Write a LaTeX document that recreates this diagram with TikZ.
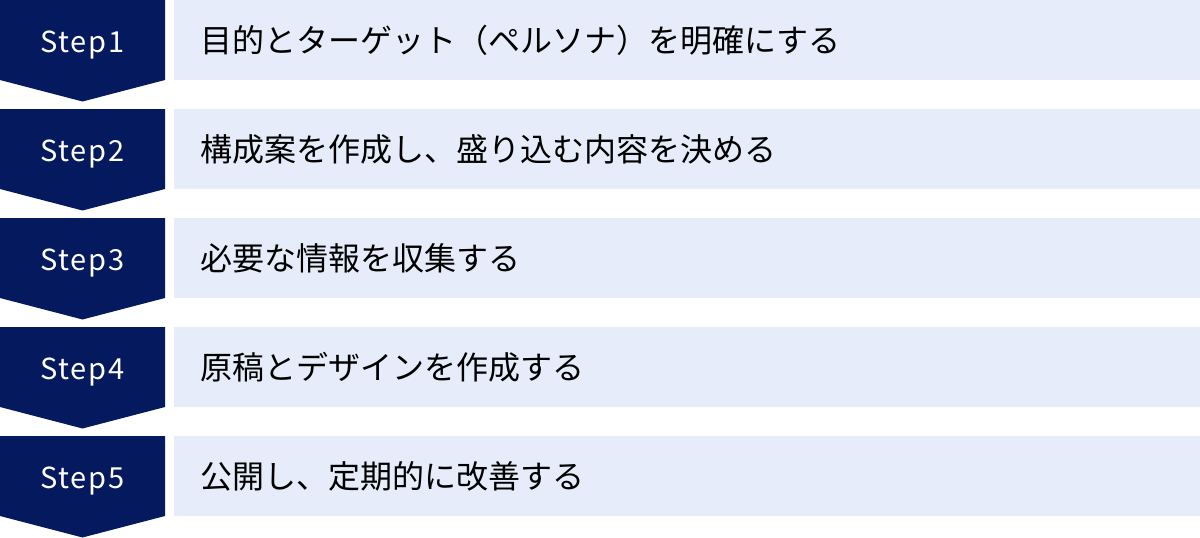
\documentclass[tikz,border=0pt]{standalone}
\usepackage{fontspec}
\newfontfamily\jpfont{Noto Sans CJK JP}
\newfontfamily\stepfont[LetterSpace=6]{Noto Sans CJK JP}
\definecolor{navy}{HTML}{05195F}
\definecolor{pale}{HTML}{E6ECF9}
\tikzset{
  chevron/.style={fill=navy},
  taskbar/.style={fill=pale},
  steplabel/.style={text=white, anchor=base, inner sep=0pt, font=\stepfont\fontsize{29}{34}\selectfont},
  tasklabel/.style={text=black, anchor=west, inner sep=0pt, font=\jpfont\fontsize{32}{38}\selectfont}
}
\begin{document}
\begin{tikzpicture}[x=1pt,y=-1pt]
\useasboundingbox (0,0) rectangle (1200,538);
\foreach \i/\t in {1/目的とターゲット（ペルソナ）を明確にする,
                   2/構成案を作成し、盛り込む内容を決める,
                   3/必要な情報を収集する,
                   4/原稿とデザインを作成する,
                   5/公開し、定期的に改善する}{
  \pgfmathsetmacro\yy{109*(\i-1)}
  \fill[chevron] (0,\yy) -- (165,\yy) -- (165,\yy+80) -- (82.5,\yy+101.5) -- (0,\yy+80) -- cycle;
  \fill[taskbar] (174,\yy) rectangle (1200,\yy+80);
  \node[steplabel] (s\i) at (82.5,\yy+52) {Step\i};
  \node[tasklabel] (t\i) at (200,\yy+40) {\t};
}
\end{tikzpicture}
\end{document}
